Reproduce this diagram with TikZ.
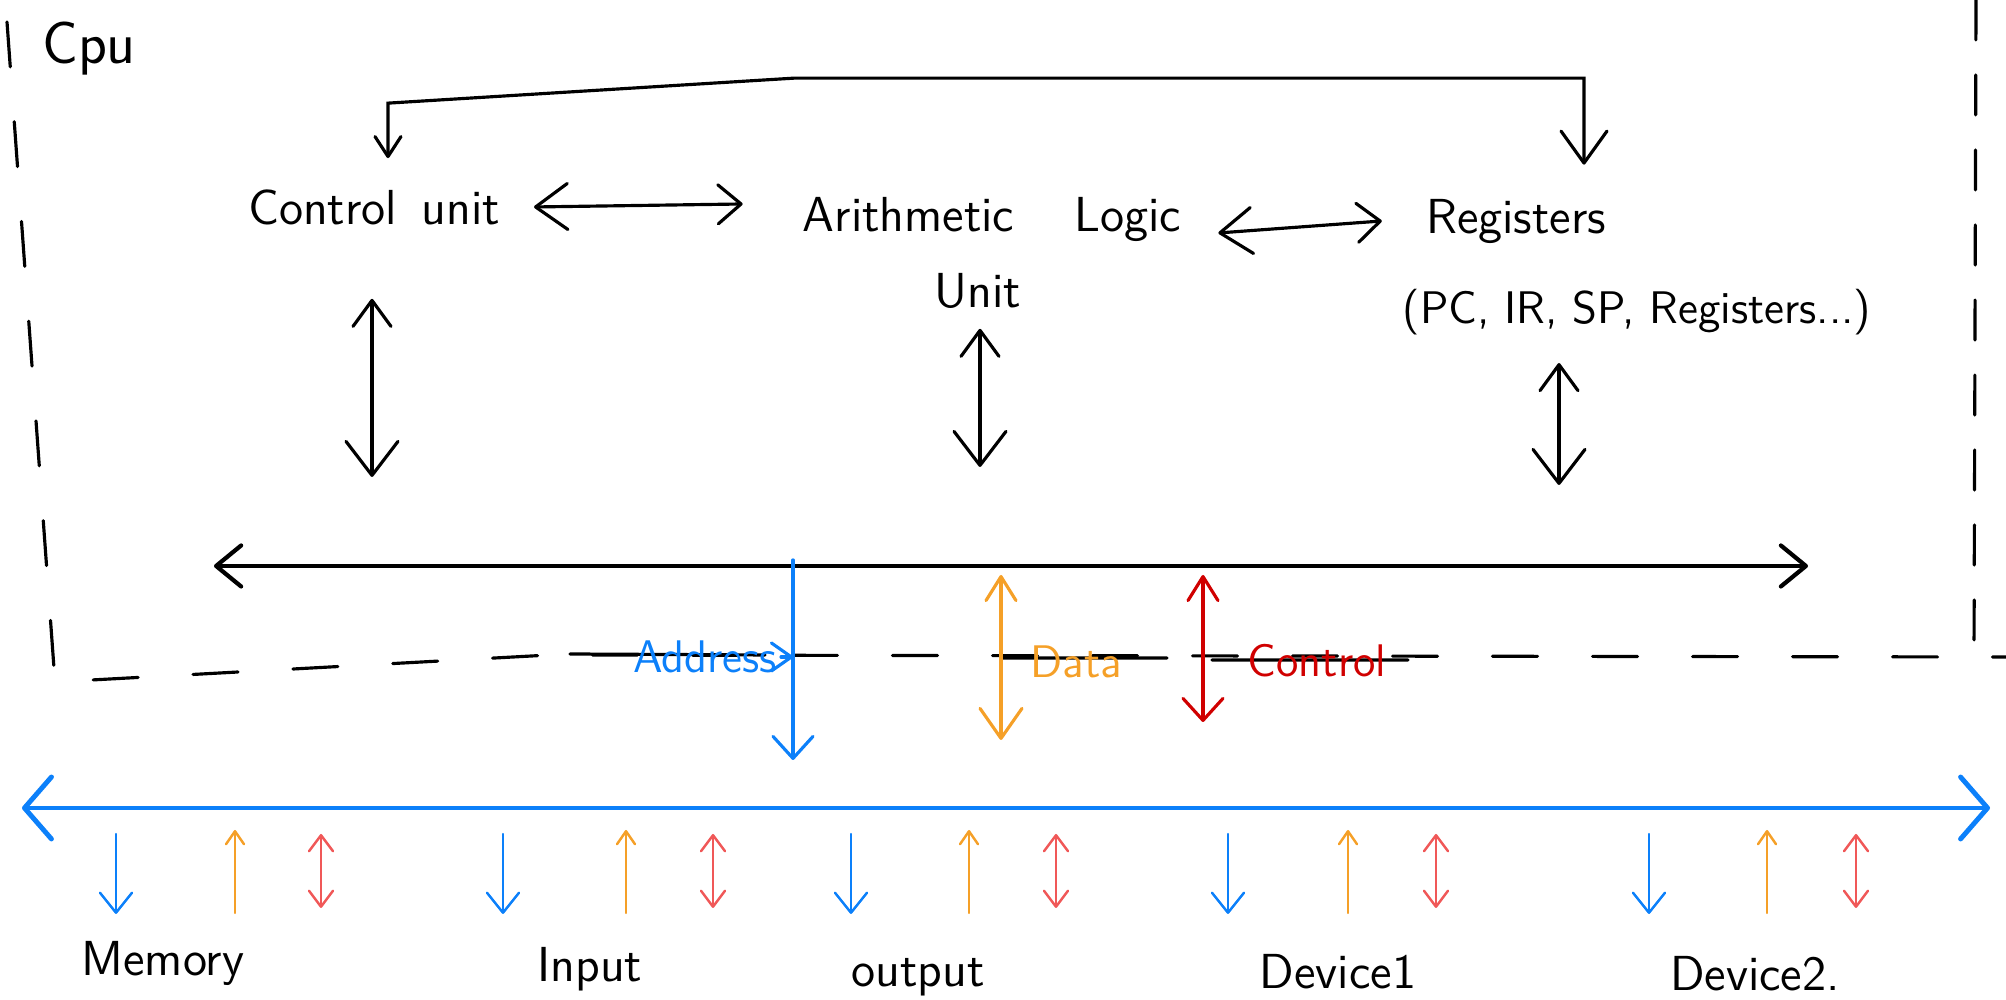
\documentclass[tikz,border=0pt]{standalone}
\usepackage{tikz}
\usetikzlibrary{arrows.meta,calc}
\definecolor{busblue}{RGB}{12,128,250}
\definecolor{dataorange}{RGB}{245,160,40}
\definecolor{ctrlred}{RGB}{208,0,0}
\definecolor{sigred}{RGB}{240,88,88}
\tikzset{
  lbl/.style={font=\sffamily\fontsize{14}{16}\selectfont,inner sep=1pt},
  tag/.style={font=\sffamily\fontsize{13}{15}\selectfont,inner sep=1pt},
  border/.style={line width=0.9pt,dash pattern=on 4.5mm off 5.5mm},
  wire/.style={line width=0.9pt},
  bigdbl/.style={line width=0.9pt,{Straight Barb[round,length=2.6mm,width=3.8mm]}-{Straight Barb[round,length=3.4mm,width=5.2mm]}},
  hdbl/.style={line width=0.9pt,{Straight Barb[round,length=3.2mm,width=4.6mm]}-{Straight Barb[round,length=2.3mm,width=3.9mm]}},
  ibus/.style={line width=1.2pt,{Straight Barb[round,length=2.5mm,width=4.1mm]}-{Straight Barb[round,length=2.5mm,width=4.1mm]}},
  ebus/.style={busblue,line width=1.4pt,{Straight Barb[round,length=2.7mm,width=6.2mm]}-{Straight Barb[round,length=2.7mm,width=6.2mm]}},
  loopback/.style={line width=0.9pt,{Straight Barb[round,length=2mm,width=2.6mm]}-{Straight Barb[round,length=3.2mm,width=4.6mm]}},
  addrsig/.style={busblue,line width=0.9pt,-{Straight Barb[round,length=2.2mm,width=4mm]}},
  datasig/.style={dataorange,line width=0.9pt,{Straight Barb[round,length=2.4mm,width=3mm]}-{Straight Barb[round,length=3mm,width=4.2mm]}},
  ctrlsig/.style={ctrlred,line width=0.9pt,{Straight Barb[round,length=2.4mm,width=3mm]}-{Straight Barb[round,length=2.2mm,width=4mm]}},
  dnsig/.style={busblue,line width=0.7pt,-{Straight Barb[round,length=2mm,width=3.2mm]}},
  upsig/.style={dataorange,line width=0.7pt,-{Straight Barb[round,length=1.3mm,width=1.8mm]}},
  rwsig/.style={sigred,line width=0.7pt,{Straight Barb[round,length=1.6mm,width=2.4mm]}-{Straight Barb[round,length=1.6mm,width=2.4mm]}}
}
\begin{document}
\begin{tikzpicture}[line cap=round]
\useasboundingbox (0,0) rectangle (20.06,10);
% cpu border
\draw[border] (0.07,9.78) -- (0.55,3.18) -- (5.5,3.45) -- (20.06,3.43);
\draw[border,dash pattern=on 4mm off 3.5mm] (19.76,10) -- (19.74,3.45);
\draw[wire] (5.70,3.46) -- (7.65,3.45) (10.03,3.42) -- (11.67,3.42) (12.12,3.40) -- (14.08,3.40);
\node[lbl,font=\sffamily\fontsize{17}{19}\selectfont] (cpu) at (0.89,9.51) {Cpu};

\node[lbl] (cu) at (3.74,7.93) {Control\enspace unit};
\node[lbl] (alu) at (9.92,7.81) {Arithmetic\hspace{0.6cm}Logic};
\node[lbl] (aluu) at (9.78,7.09) {Unit};
\node[lbl] (reg) at (15.16,7.79) {Registers};
\node[lbl,font=\sffamily\fontsize{13}{15}\selectfont] (regl) at (16.37,6.88) {(PC, IR, SP, Registers...)};

\draw[loopback] ($(cu.north)+(0.14,0.27)$) -- ++(0,0.55) -- ($(cu.north)+(4.2,1.07)$) -| ($(reg.north)+(0.68,0.30)$);
\draw[hdbl] ([xshift=3mm]cu.east) -- ([xshift=-5.6mm,yshift=1.5mm]alu.west);
\draw[hdbl] ([xshift=3.3mm,yshift=-1.4mm]alu.east) -- ([xshift=-4mm]reg.west);

% internal bus
\coordinate (ibl) at (2.14,4.34);\coordinate (ibr) at (18.08,4.34);
\draw[ibus] (ibl) -- (ibr);
\draw[bigdbl] ($(cu.south)+(-0.02,-0.70)$) -- ($(cu.south |- ibl)+(-0.02,0.89)$);
\draw[bigdbl] ($(aluu.south)+(0.02,-0.16)$) -- ($(aluu.south |- ibl)+(0.02,0.99)$);
\draw[bigdbl] ($(regl.south)+(-0.78,-0.24)$) -- ($(regl.south |- ibl)+(-0.78,0.81)$);

\coordinate (adr) at (7.93,4.40);\coordinate (dat) at (10.01,4.25);\coordinate (ctl) at (12.03,4.25);
\draw[addrsig] (adr) -- ++(0,-2.00);
\draw[datasig] (dat) -- ++(0,-1.65);
\draw[ctrlsig] (ctl) -- ++(0,-1.47);
\node[tag,text=busblue] (addr) at (7.05,3.43) {Address};
\node[tag,text=dataorange] (datal) at (10.76,3.38) {Data};
\node[tag,text=ctrlred] (ctrll) at (13.17,3.39) {Control};
\draw[busblue,line width=0.9pt,-{Straight Barb[round,length=2mm,width=2.8mm]}] (addr.east) -- (addr.east -| adr);

% system bus and devices
\coordinate (ebl) at (0.22,1.92);\coordinate (ebr) at (19.90,1.92);
\draw[ebus] (ebl) -- (ebr);
\foreach\xb/\xo/\xr in{1.16/2.35/3.21,5.03/6.26/7.13,8.51/9.69/10.56,12.28/13.48/14.36,16.49/17.67/18.56}{
\draw[dnsig](\xb,1.66)--(\xb,0.86);\draw[upsig](\xo,0.87)--(\xo,1.70);\draw[rwsig](\xr,1.66)--(\xr,0.92);}
\node[lbl] (mem) at (1.63,0.37) {Memory};
\node[lbl] (inp) at (5.90,0.31) {Input};
\node[lbl] (outp) at (9.18,0.23) {output};
\node[lbl] (dev1) at (13.38,0.28) {Device1};
\node[lbl] (dev2) at (17.55,0.26) {Device2.};
\end{tikzpicture}
\end{document}
